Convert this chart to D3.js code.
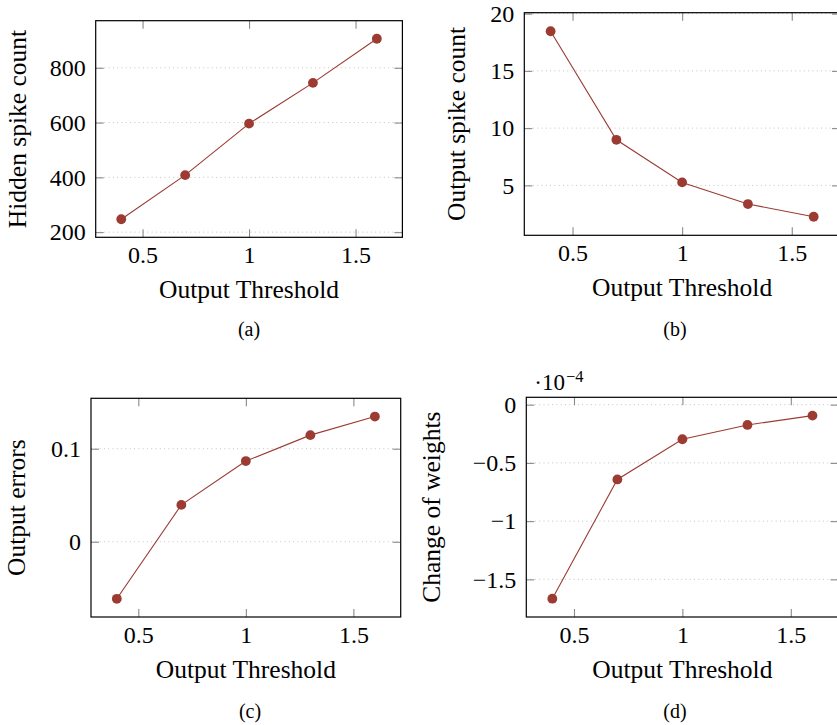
<!DOCTYPE html>
<html>
<head>
<meta charset="utf-8">
<script src="https://cdn.jsdelivr.net/npm/d3@7"></script>
<style>
  html, body { margin: 0; padding: 0; background: #fff; }
  svg { display: block; font-family: "Liberation Serif", "Times New Roman", serif; }
</style>
</head>
<body>
<svg id="chart" width="837" height="725"></svg>
<script>
// ---- data ----
const thresholds = [0.4, 0.7, 1.0, 1.3, 1.6];
const hiddenSpikes = [247, 408, 596, 745, 906];
const outputSpikes = [18.46, 8.98, 5.26, 3.37, 2.26];
const outputErrors = [-0.0613, 0.0396, 0.0867, 0.1146, 0.1346];
const weightChange = [-1.666, -0.642, -0.297, -0.174, -0.094]; // in units of 10^-4

const xTicks = [0.5, 1, 1.5];
const xTickLabels = ["0.5", "1", "1.5"];
const xLabel = "Output Threshold";

const yTicksA = [200, 400, 600, 800];
const yTickLabelsA = ["200", "400", "600", "800"];
const yTicksB = [5, 10, 15, 20];
const yTickLabelsB = ["5", "10", "15", "20"];
const yTicksC = [0, 0.1];
const yTickLabelsC = ["0", "0.1"];
const yTicksD = [0, -0.5, -1, -1.5];
const yTickLabelsD = ["0", "\u22120.5", "\u22121", "\u22121.5"];

const yLabels = ["Hidden spike count", "Output spike count", "Output errors", "Change of weights"];
const captions = ["(a)", "(b)", "(c)", "(d)"];

// ---- layout ----
const panels = [
  { values: hiddenSpikes, ticks: yTicksA, tickLabels: yTickLabelsA,
    left: 95.7, right: 402.4, top: 20.7, bottom: 237.3, yLabelX: 25.5, capX: 249, capY: 336 },
  { values: outputSpikes, ticks: yTicksB, tickLabels: yTickLabelsB,
    left: 524.3, right: 840, top: 12.7, bottom: 235.3, yLabelX: 465.3, capX: 675, capY: 336 },
  { values: outputErrors, ticks: yTicksC, tickLabels: yTickLabelsC,
    left: 91, right: 400.7, top: 398.3, bottom: 617, yLabelX: 25.3, capX: 250, capY: 717.5 },
  { values: weightChange, ticks: yTicksD, tickLabels: yTickLabelsD,
    left: 526.3, right: 838.5, top: 397.3, bottom: 617, yLabelX: 440.3, capX: 675, capY: 717.5,
    multiplier: true }
];

const color = "#9b3b32";
const tickColor = "#8a8a8a";
const gridColor = "#c4c4c4";
const tickFont = 24, labelFont = 25.5, capFont = 20, tickLen = 8;

const svg = d3.select("#chart");

panels.forEach((p, i) => {
  const xExt = d3.extent(thresholds), xPad = (xExt[1] - xExt[0]) * 0.1;
  const x = d3.scaleLinear().domain([xExt[0] - xPad, xExt[1] + xPad]).range([p.left, p.right]);
  const yExt = d3.extent(p.values), yPad = (yExt[1] - yExt[0]) * 0.1;
  const y = d3.scaleLinear().domain([yExt[0] - yPad, yExt[1] + yPad]).range([p.bottom, p.top]);

  const g = svg.append("g");

  // grid (horizontal, dotted)
  g.append("g").selectAll("line").data(p.ticks).join("line")
    .attr("x1", p.left).attr("x2", p.right)
    .attr("y1", d => y(d)).attr("y2", d => y(d))
    .attr("stroke", gridColor).attr("stroke-width", 1)
    .attr("stroke-dasharray", "1,3.3");

  // axes
  const styleAxis = sel => {
    sel.select(".domain").remove();
    sel.selectAll(".tick line").attr("stroke", tickColor).attr("stroke-width", 1.1);
    sel.selectAll(".tick text").attr("fill", "#000").style("font-size", tickFont + "px")
      .style("font-family", '"Liberation Serif", serif');
  };
  g.append("g").attr("transform", `translate(0,${p.bottom})`)
    .call(d3.axisBottom(x).tickValues(xTicks).tickFormat((d, k) => xTickLabels[k]).tickSize(-tickLen).tickPadding(9))
    .call(styleAxis);
  g.append("g").attr("transform", `translate(0,${p.top})`)
    .call(d3.axisTop(x).tickValues(xTicks).tickFormat("").tickSize(-tickLen))
    .call(styleAxis);
  g.append("g").attr("transform", `translate(${p.left},0)`)
    .call(d3.axisLeft(y).tickValues(p.ticks).tickFormat((d, k) => p.tickLabels[k]).tickSize(-tickLen).tickPadding(10))
    .call(styleAxis);
  g.append("g").attr("transform", `translate(${p.right},0)`)
    .call(d3.axisRight(y).tickValues(p.ticks).tickFormat("").tickSize(-tickLen))
    .call(styleAxis);

  // line + markers
  const pts = thresholds.map((t, k) => [t, p.values[k]]);
  g.append("path").datum(pts)
    .attr("fill", "none").attr("stroke", color).attr("stroke-width", 1.1)
    .attr("d", d3.line().x(d => x(d[0])).y(d => y(d[1])));
  g.append("g").selectAll("circle").data(pts).join("circle")
    .attr("cx", d => x(d[0])).attr("cy", d => y(d[1])).attr("r", 4.9)
    .attr("fill", color);

  // frame
  g.append("rect")
    .attr("x", p.left).attr("y", p.top)
    .attr("width", p.right - p.left).attr("height", p.bottom - p.top)
    .attr("fill", "none").attr("stroke", "#000").attr("stroke-width", 1.2);

  // x label
  g.append("text").attr("x", (p.left + p.right) / 2).attr("y", p.bottom + 61)
    .attr("text-anchor", "middle").style("font-size", labelFont + "px").text(xLabel);

  // y label
  const cy = (p.top + p.bottom) / 2;
  g.append("text").attr("transform", `translate(${p.yLabelX},${cy}) rotate(-90)`)
    .attr("text-anchor", "middle").style("font-size", labelFont + "px").text(yLabels[i]);

  // caption
  g.append("text").attr("x", p.capX).attr("y", p.capY)
    .attr("text-anchor", "middle").style("font-size", capFont + "px").text(captions[i]);

  // multiplier label
  if (p.multiplier) {
    const t = g.append("text").attr("x", p.left + 8).attr("y", p.top - 7)
      .style("font-size", "23px");
    t.append("tspan").text("\u00B710");
    t.append("tspan").attr("dx", 1).attr("dy", -8).style("font-size", "16.5px").text("\u22124");
  }
});
</script>
</body>
</html>
